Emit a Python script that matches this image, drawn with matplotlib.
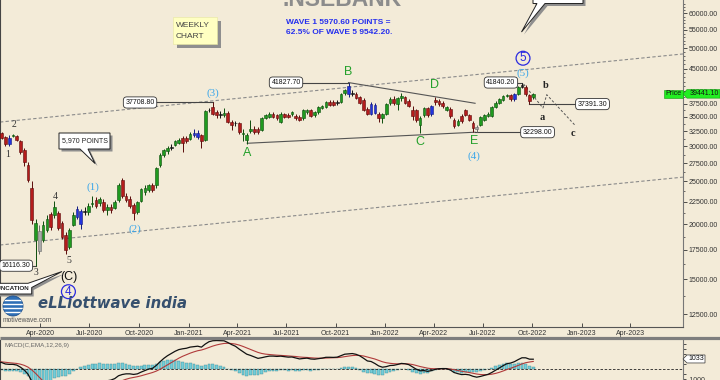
import numpy as np
import pandas as pd
import matplotlib
matplotlib.use("Agg")
import matplotlib.pyplot as plt
import matplotlib.dates as mdates
import matplotlib.ticker as mticker
from matplotlib.patches import Rectangle, Polygon, Circle

plt.rcParams['font.family'] = ['Liberation Sans', 'DejaVu Sans']

# ------------------------------------------------------------------ data
first_week = "2020-01-13"          # Monday of the first weekly candle

opens = [
    32000, 32100, 31500, 30300, 31700, 31600, 30800, 29400, 27200, 24200,
    18400, 19300, 18400, 19400, 21100, 21000, 21200, 20100, 18900, 17800,
    19900, 21700, 20000, 21300, 21300, 22200, 22700, 22300, 22500, 21500,
    21900, 21800, 22700, 25200, 23200, 22800, 22100, 21300, 22600, 23600,
    23900, 24500, 24500, 27200, 28700, 29300, 29800, 30200, 30600, 31300,
    31400, 31200, 32200, 31500, 31800, 31000, 36200, 36800, 35900, 35500,
    35300, 35700, 34100, 33800, 33800, 32000, 31000, 32500, 32900, 32900,
    32700, 34800, 35000, 35500, 35300, 34100, 35500, 35400, 35500, 35200,
    35000, 34700, 35800, 36200, 35300, 35800, 36700, 36900, 37800, 37800,
    37700, 37800, 39600, 41100, 39500, 39500, 38700, 38200, 36500, 35500,
    37300, 35500, 34800, 35500, 37600, 38400, 37400, 38500, 38700, 37900,
    36300, 36200, 33500, 35300, 36600, 35500, 38200, 38000, 37600, 36300,
    36500, 34400, 33500, 35200, 36200, 35300, 33900, 32800, 33500, 34500,
    35200, 35100, 36800, 37700, 38200, 39000, 39300, 38300, 39400, 40900,
    40900, 39200, 38700]

highs = [
    32300, 32400, 31700, 31900, 32000, 31800, 31000, 29800, 27600, 25000,
    20500, 19900, 20300, 21000, 21300, 22600, 21400, 20300, 19200, 19600,
    21300, 22000, 21600, 21900, 22300, 23200, 23000, 23000, 22800, 22200,
    22200, 22700, 24800, 25500, 23500, 23200, 22300, 22600, 24200, 24500,
    24700, 24800, 27000, 29000, 29600, 30000, 30300, 31000, 31300, 31700,
    31600, 32400, 32800, 32600, 32000, 36200, 36600, 37708.8, 36200, 36000,
    36700, 36000, 34500, 34300, 34100, 32900, 32200, 34400, 33300, 33200,
    35000, 35500, 35800, 35800, 35500, 35800, 35700, 35700, 36000, 35500,
    35300, 36400, 36500, 36400, 36000, 37100, 37300, 38000, 38200, 38100,
    38200, 39700, 40500, 41827.7, 40200, 39800, 39000, 38500, 36800, 37800,
    37600, 35800, 35700, 37700, 38700, 38900, 38700, 39600, 39000, 38300,
    37000, 36500, 35200, 36800, 36800, 37300, 38765, 38300, 37900, 37000,
    36900, 34700, 34600, 35500, 36500, 35600, 34200, 33600, 35100, 35500,
    35800, 37000, 37900, 38600, 39200, 39500, 39500, 39700, 41000, 41840.2,
    41200, 39500, 39700]

lows = [
    31400, 31100, 30000, 30100, 31500, 30800, 28900, 27100, 24900, 20000,
    16116.3, 17100, 18200, 19200, 19400, 20700, 19400, 18500, 17100, 17600,
    19800, 20500, 19500, 21000, 21000, 21900, 21800, 22000, 21300, 21000,
    21200, 21600, 22500, 22900, 22400, 21800, 20400, 21100, 22400, 23300,
    23700, 23600, 24200, 27000, 28400, 28900, 29500, 30000, 30400, 29100,
    30600, 31000, 31500, 31200, 29700, 30800, 35800, 35400, 34800, 34800,
    35000, 33800, 32700, 33400, 32000, 30900, 30405, 32200, 32000, 32000,
    32500, 34600, 34800, 34800, 34500, 33900, 34700, 34800, 35200, 34400,
    34200, 34500, 35600, 34900, 35000, 35600, 36500, 36700, 37000, 37000,
    37300, 37600, 39300, 38800, 39000, 38400, 37400, 36100, 35300, 35300,
    35500, 34000, 33800, 35300, 37300, 37300, 36200, 38000, 37400, 36800,
    34500, 34000, 32155, 35000, 35000, 35200, 37200, 37100, 36700, 36000,
    34800, 33000, 33300, 33900, 35100, 34200, 32298, 32300, 33300, 34300,
    34900, 34900, 36600, 37500, 38000, 38700, 38000, 38000, 39200, 40600,
    39000, 37391.3, 38400]

closes = [
    31600, 31300, 30300, 31400, 31850, 31000, 29100, 27700, 25200, 20450,
    20100, 17400, 19900, 20600, 19700, 21900, 19600, 18700, 17500, 19400,
    21000, 20800, 21400, 21400, 22000, 22300, 22000, 22800, 21500, 21900,
    21500, 22500, 24500, 23200, 22700, 22000, 21200, 22400, 24000, 24200,
    24500, 23900, 26800, 28700, 29400, 29700, 29900, 30800, 31000, 30600,
    30800, 32000, 31800, 32200, 30900, 36000, 36300, 35600, 35300, 35400,
    35700, 34100, 33600, 33900, 32300, 32100, 31800, 32900, 32400, 32300,
    34700, 35300, 35500, 35000, 34800, 35600, 34900, 35000, 35800, 34700,
    34500, 36200, 36300, 35100, 35800, 36900, 37100, 37800, 37200, 37200,
    37800, 39500, 40200, 39400, 39600, 38600, 37600, 36300, 35500, 37500,
    35700, 34700, 35500, 37500, 38400, 37600, 38500, 39100, 37700, 37000,
    35100, 34400, 34800, 36600, 35300, 37100, 37800, 37400, 37000, 36800,
    35100, 33300, 34300, 34200, 35300, 34400, 33000, 33200, 34900, 35300,
    35600, 36800, 37700, 38400, 39000, 39300, 38300, 39400, 40800, 41200,
    39500, 38000, 39441.1]

# candle colour codes as drawn: g=up, r=down, b=blue, k=black, y=grey
candle_colors = list(
    "rrrbgrrrrr" "gyggrgrrrg" "gbbkggrgrg" "rggrrrrggg" "grggggkggr"
    "rgbbrgkrrk" "grrkrgggrr" "gggrrgrrgr" "rggrggggrr" "kggbkrrrrb"
    "brgggrggrr" "rrggrbrrrg" "rrgrrrrygg" "ggggggrbgk" "rrg")

price_ticks = [12500, 15000, 17500, 20000, 22500, 25000, 27500, 30000,
               32500, 35000, 37500, 40000, 45000, 50000, 55000, 60000]
date_ticks = ["2020-04-01", "2020-07-01", "2020-10-01", "2021-01-01",
              "2021-04-01", "2021-07-01", "2021-10-01", "2022-01-01",
              "2022-04-01", "2022-07-01", "2022-10-01", "2023-01-01",
              "2023-04-01"]

macd_fast, macd_slow, macd_signal = 12, 26, 9
macd_at_start = 760       # MACD value at the left edge
signal_at_start = 760     # signal value at the left edge
macd_tag = 1033

# Elliott wave labels (text, date, price)
wave_minor = [("1", "2020-02-01", 28700), ("2", "2020-02-12", 33600),
              ("3", "2020-03-23", 15540), ("4", "2020-04-29", 23080),
              ("5", "2020-05-23", 16520)]
wave_inter = [("(1)", "2020-07-08", 24240), ("(2)", "2020-09-23", 19480),
              ("(3)", "2021-02-15", 39530), ("(4)", "2022-06-15", 28540),
              ("(5)", "2022-09-13", 44030)]
wave_abcde = [("A", "2021-04-20", 28940), ("B", "2021-10-24", 44260),
              ("C", "2022-03-06", 30730), ("D", "2022-04-02", 41300),
              ("E", "2022-06-15", 30900)]
wave_small_abc = [("a", "2022-10-20", 34960), ("b", "2022-10-26", 41300),
                  ("c", "2022-12-16", 32120)]
wave_circled = [("4", "2020-05-23", 14075), ("5", "2022-09-14", 47480)]
wave_big_C = ("(C)", "2020-05-23", 15220)

# price boxes: value, box centre date, connector start, connector end
price_boxes = [
    (37708.80, "2020-10-03", "2020-11-02", "2021-02-15"),
    (41827.70, "2021-07-01", "2021-07-31", "2021-10-25"),
    (41840.20, "2022-08-04", "2022-09-03", "2022-09-12"),
    (37391.30, "2023-01-21", "2022-09-26", "2022-12-24"),
    (32298.00, "2022-10-11", "2022-06-17", "2022-09-12"),
    (16116.30, "2020-02-16", "2020-03-14", "2020-03-23"),
]

upper_channel = [("2020-01-17", 34050), ("2023-07-08", 48550)]
lower_channel = [("2020-01-17", 17950), ("2023-07-08", 25560)]
ae_line = [("2021-04-20", 30490), ("2022-06-17", 32298)]
bd_line = [("2021-10-25", 41827.7), ("2022-06-17", 37550)]
projection = [("2022-09-15", 41500), ("2022-10-21", 36640),
              ("2022-10-28", 39270), ("2022-12-19", 33540)]

x_range = ("2020-01-17", "2023-07-08")
y_range = (11693, 64300)
macd_range = (-1070, 2930)

# ------------------------------------------------------------------ style
W, H = 720, 380
BG = '#f3ebd8'
COLS = {'g': ('#1f9a1f', '#0c4d0c'), 'r': ('#b41c1c', '#5a0a0a'),
        'b': ('#2233dd', '#111a80'), 'k': ('#222222', '#111111'),
        'y': ('#a8a8a8', '#6a6a6a')}

def d(s):
    return mdates.date2num(pd.Timestamp(s))

fig = plt.figure(figsize=(W / 100, H / 100), dpi=100)
fig.patch.set_facecolor(BG)

main_bottom = 327.3
ax = fig.add_axes([0, (H - main_bottom) / H, 683 / W, main_bottom / H])
ax2 = fig.add_axes([0, 0, 683 / W, 40 / H])
for a in (ax, ax2):
    a.set_facecolor(BG)

# ---------------- main price panel
weeks = pd.date_range(first_week, periods=len(closes), freq="W-MON")
xs = mdates.date2num(weeks)
ax.set_yscale('log')
ax.set_xlim(d(x_range[0]), d(x_range[1]))
ax.set_ylim(*y_range)

for xi, o, h, l, c, k in zip(xs, opens, highs, lows, closes, candle_colors):
    fc, ec = COLS[k]
    ax.vlines(xi, l, h, color=ec, lw=0.7, zorder=3)
    lo, hi = min(o, c), max(o, c)
    if hi / lo < 1.004:
        hi = lo * 1.004
    ax.add_patch(Rectangle((xi - 2.5, lo), 5.0, hi - lo, facecolor=fc,
                           edgecolor=ec, lw=0.4, zorder=4))

def seg(points, **kw):
    ax.plot([d(p[0]) for p in points], [p[1] for p in points], **kw)

seg(upper_channel, color='#8a8a8a', lw=0.8, ls=(0, (3, 2)), zorder=2)
seg(lower_channel, color='#8a8a8a', lw=0.8, ls=(0, (3, 2)), zorder=2)
seg(ae_line, color='#555555', lw=0.8, zorder=2)
seg(bd_line, color='#555555', lw=0.8, zorder=2)
seg(projection, color='#555555', lw=0.7, ls=(0, (2.5, 2)), zorder=2)

for val, cdate, l0, l1 in price_boxes:
    ax.plot([d(l0), d(l1)], [val, val], color='#444444', lw=0.8, zorder=2)
    ax.text(d(cdate), val, f"{val:.2f}", ha='center', va='center', fontsize=5,
            color='#111111', zorder=6,
            bbox=dict(boxstyle='round,pad=0.3,rounding_size=0.5', fc='white',
                      ec='#333333', lw=0.6))

for t, dt, p in wave_minor:
    ax.text(d(dt), p, t, ha='center', va='center', fontsize=7,
            family='Liberation Serif', color='#333333', zorder=6)
for t, dt, p in wave_inter:
    ax.text(d(dt), p, t, ha='center', va='center', fontsize=8,
            family='Liberation Serif', color='#3aa6ea', zorder=6)
for t, dt, p in wave_abcde:
    ax.text(d(dt), p, t, ha='center', va='center', fontsize=9,
            color='#23a02a', zorder=6)
for t, dt, p in wave_small_abc:
    ax.text(d(dt), p, t, ha='center', va='center', fontsize=7.5,
            family='Liberation Serif', fontweight='bold', color='#222222', zorder=6)
for t, dt, p in wave_circled:
    ax.text(d(dt), p, t, ha='center', va='center', fontsize=8.5,
            color='#2a2ae0', zorder=6,
            bbox=dict(boxstyle='circle,pad=0.08', fc='none', ec='#2a2ae0', lw=0.9))
ax.text(d(wave_big_C[1]), wave_big_C[2], wave_big_C[0], ha='center',
        va='center', fontsize=9, color='#111111', zorder=6)

ax.yaxis.tick_right()
ax.yaxis.set_major_locator(mticker.FixedLocator(price_ticks))
ax.yaxis.set_major_formatter(mticker.FuncFormatter(lambda v, _: f"{v:.2f}"))
minor = [v for v in np.arange(12500, 40000, 1250) if v not in price_ticks] + \
        [v for v in range(41000, 64000, 1000) if v not in price_ticks]
ax.yaxis.set_minor_locator(mticker.FixedLocator(minor))
ax.yaxis.set_minor_formatter(mticker.NullFormatter())
ax.tick_params(axis='y', which='major', direction='out', length=3, width=0.6,
               pad=1, labelsize=5, colors='#333333')
ax.tick_params(axis='y', which='minor', direction='out', length=1.6, width=0.5,
               colors='#333333')
ax.set_xticks([d(t) for t in date_ticks])
ax.xaxis.set_major_formatter(mdates.DateFormatter('%b-%Y'))
ax.tick_params(axis='x', direction='in', length=3, width=0.6, pad=2.2,
               labelsize=5, colors='#333333')
ax.spines['top'].set_visible(False)
ax.spines['left'].set_color('#444444')
ax.spines['bottom'].set_color('#555555')
ax.spines['right'].set_color('#777777')
for s in ax.spines.values():
    s.set_linewidth(0.8)

# ---------------- MACD panel
c = np.asarray(closes, float)
a_f, a_s, a_g = 2 / (macd_fast + 1), 2 / (macd_slow + 1), 2 / (macd_signal + 1)
ef = np.empty_like(c); es = np.empty_like(c); sg = np.empty_like(c)
ef[0], es[0], sg[0] = c[0], c[0] - macd_at_start, signal_at_start
for i in range(1, len(c)):
    ef[i] = ef[i - 1] + a_f * (c[i] - ef[i - 1])
    es[i] = es[i - 1] + a_s * (c[i] - es[i - 1])
    sg[i] = sg[i - 1] + a_g * ((ef[i] - es[i]) - sg[i - 1])
macd = ef - es
hist = macd - sg

ax2.set_xlim(d(x_range[0]), d(x_range[1]))
ax2.set_ylim(*macd_range)
ax2.bar(xs, hist, width=5.2, color='#74cdd8', edgecolor='#3f8e99', lw=0.3, zorder=2)
ax2.axhline(0, color='#222222', lw=0.6, ls=(0, (3, 2)), zorder=3)
ax2.plot(xs, sg, color='#b03a3a', lw=0.8, zorder=4)
ax2.plot(xs, macd, color='#111111', lw=0.9, zorder=5)
ax2.text(0.007, 0.85, "MACD(C,EMA,12,26,9)", transform=ax2.transAxes,
         fontsize=4.5, color='#666666', va='center')
ax2.yaxis.tick_right()
ax2.set_yticks([-1000])
ax2.set_yticklabels(["-1000"])
ax2.yaxis.set_minor_locator(mticker.FixedLocator([-500, 500, 1500, 2000, 2500]))
ax2.tick_params(axis='y', which='both', direction='out', length=2.5, width=0.6,
                pad=1, labelsize=5, colors='#333333')
ax2.set_xticks([])
ax2.spines['top'].set_visible(False)
ax2.spines['bottom'].set_visible(False)
ax2.spines['left'].set_color('#444444')
ax2.spines['right'].set_color('#777777')

# ---------------- overlay (pixel coordinates)
ov = fig.add_axes([0, 0, 1, 1], zorder=10)
ov.set_xlim(0, W)
ov.set_ylim(H, 0)
ov.axis('off')
ov.patch.set_alpha(0)

def ypix(axis, xv, yv):
    return H - axis.transData.transform((xv, yv))[1]

ov.plot([0, W], [338.3, 338.3], color='#7e7e7e', lw=2.3, solid_capstyle='butt')

ov.text(342, 6, ".NSEBANK", ha='center', va='baseline', fontsize=16.5,
        fontweight='bold', color='#8c8c8c')
ov.text(286, 22.3, "WAVE 1 5970.60 POINTS =", fontsize=6, fontweight='bold',
        color='#2630ee', va='center')
ov.text(286, 32, "62.5% OF WAVE 5 9542.20.", fontsize=6, fontweight='bold',
        color='#2630ee', va='center')

# weekly chart note
ov.add_patch(Rectangle((176.5, 21), 44, 27, fc='#8e8e8e', ec='none'))
ov.add_patch(Rectangle((172.7, 17.3), 44, 26.7, fc='#ffffc2', ec='#e6e6a0', lw=0.4))
ov.text(176, 25.7, "WEEKLY", fontsize=6, color='#444444', va='center')
ov.text(176, 36, "CHART", fontsize=6, color='#444444', va='center')

def callout(pts, dx=2.5, dy=2.5):
    ov.add_patch(Polygon([(x + dx, y + dy) for x, y in pts], closed=True,
                         fc='#8e8e8e', ec='none'))
    ov.add_patch(Polygon(pts, closed=True, fc='white', ec='#222222', lw=0.7))

callout([(59, 133), (110, 133), (110, 149), (88, 149), (95, 163.5), (80, 149), (59, 149)])
ov.text(84.5, 141, "5,970 POINTS", ha='center', va='center', fontsize=5, color='#222222')
callout([(533, -10), (583, -10), (583, 3.5), (545, 3.5), (521.5, 32), (537, 3.5), (533, 3.5)])
callout([(-10, 283.3), (28, 283.3), (62, 271.5), (31.7, 287.5), (31.7, 294), (-10, 294)],
        dx=2, dy=2.5)
ov.text(29.5, 289, "TRUNCATION", ha='right', va='center', fontsize=4.5,
        fontweight='bold', color='#222222')

# logo
globe = Circle((13, 306), 10, fc='#2f6fb6', ec='#1d4f8c', lw=0.6)
ov.add_patch(globe)
for yy in (299.5, 303.5, 307.5, 311.5):
    ln, = ov.plot([2, 24], [yy, yy], color='white', lw=1.0)
    ln.set_clip_path(globe)
ov.text(38, 304, "eLLiottwave india", fontsize=10.7, fontweight='bold',
        style='italic', family='DejaVu Sans', color='#36506e', va='center')
ov.text(3, 320, "motivewave.com", fontsize=4.8, color='#555555', va='center')

# price tag
py = ypix(ax, xs[-1], closes[-1])
ov.add_patch(Rectangle((664, py - 4.3), 19, 8.6, fc='#22ee22', ec='#119911', lw=0.4))
ov.text(673.5, py, "Price", ha='center', va='center', fontsize=5, color='#111111')
ov.add_patch(Polygon([(683, py), (687, py - 4.3), (720, py - 4.3), (720, py + 4.3),
                      (687, py + 4.3)], closed=True, fc='#22ee22', ec='#119911', lw=0.4))
ov.text(704, py, f"{closes[-1]:.2f}", ha='center', va='center', fontsize=5,
        color='#111111')

# MACD tag
my = ypix(ax2, xs[-1], macd_tag)
ov.add_patch(Polygon([(683, my), (687, my - 4), (705, my - 4), (705, my + 4),
                      (687, my + 4)], closed=True, fc='white', ec='#333333', lw=0.5))
ov.text(696, my, f"{macd_tag}", ha='center', va='center', fontsize=5, color='#111111')

fig.savefig("out.png", dpi=100, facecolor=BG)
